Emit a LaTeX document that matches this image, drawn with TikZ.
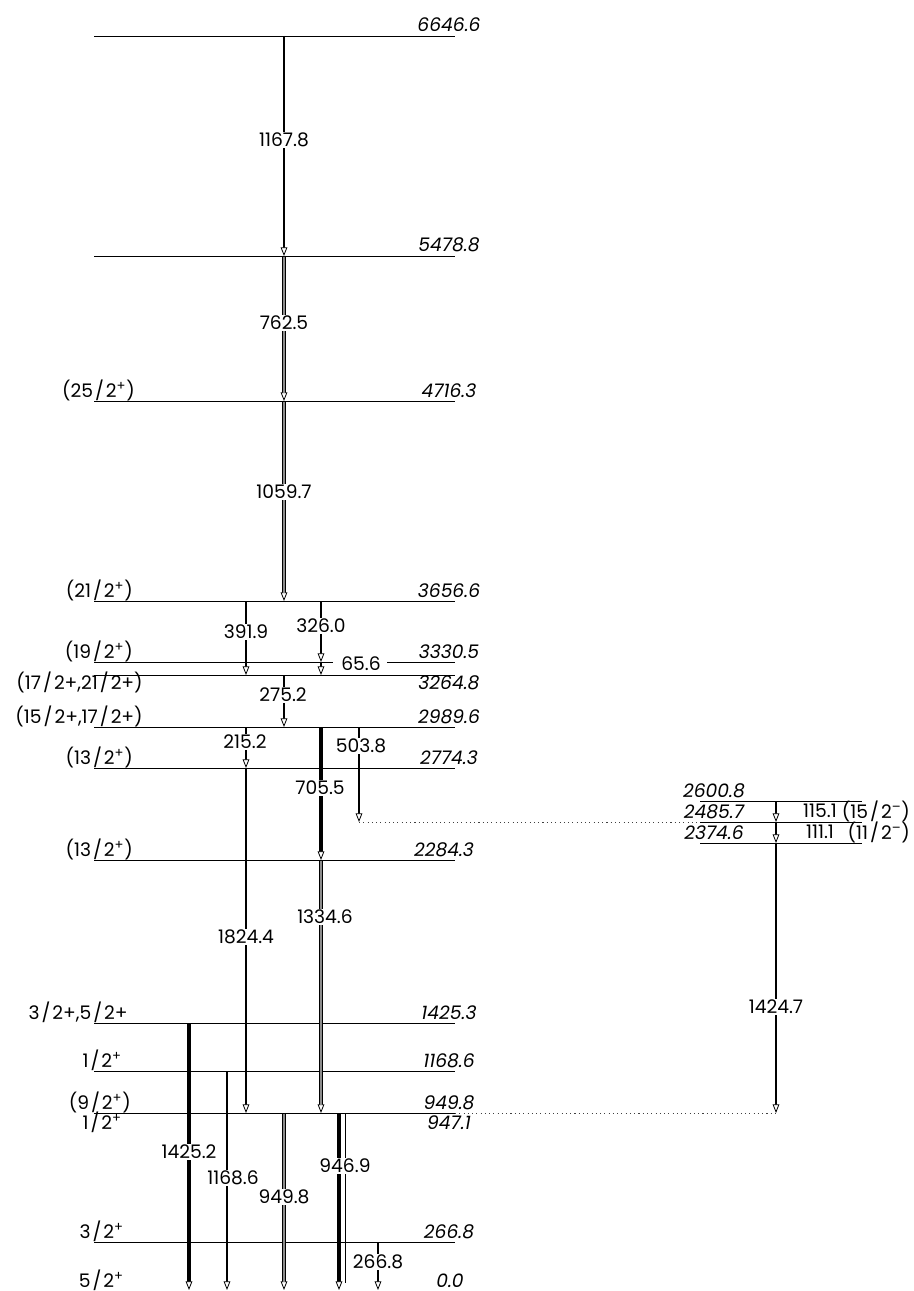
\documentclass[tikz,border=0pt]{standalone}
\usepackage{fontspec}
\setmainfont{Poppins}
\usetikzlibrary{arrows.meta}
\pgfdeclarelayer{fg}
\pgfsetlayers{main,fg}
\newcommand\gdbl[3]{%
  \draw[g=2.6pt] (#1,#2)--(#1,#3);
  \draw[line width=1.0pt, black!45] (#1,#2+0.6)--(#1,#3-8);}
\newcommand\sls{\kern1.5pt/\kern1.5pt}
\begin{document}
\begin{tikzpicture}[x=0.75pt,y=-0.75pt,
  lvl/.style={line width=0.7pt},
  dotl/.style={line width=0.75pt, dash pattern=on 0.8pt off 2.4pt, black!75},
  tip/.style={-{Triangle[fill=white,length=6.5pt,width=5pt,line width=0.6pt]}},
  g/.style={tip, line width=#1},
  lab/.style={fill=white, inner xsep=2pt, inner ysep=1pt, font=\fontsize{14}{16}\selectfont},
  plain/.style={inner sep=1pt, font=\fontsize{14}{16}\selectfont},
  en/.style={anchor=base, inner sep=0pt, font=\fontsize{14}{16}\selectfont\itshape},
  sp/.style={anchor=base east, inner sep=0pt, font=\fontsize{14}{16}\selectfont},
]
\useasboundingbox (0,0) rectangle (913,1291);

% ---------- levels (main band)
\foreach \y in {36,256,401,601,675,727,768,860,1023,1071,1113,1242}
  \draw[lvl] (94,\y) -- (455,\y);
\draw[lvl] (94,662) -- (333,662);
\draw[lvl] (387,662) -- (455,662);
% right band
\foreach \y in {801,822,843}
  \draw[lvl] (700,\y) -- (862,\y);
% dotted links
\draw[dotl] (359,822) -- (700,822);
\draw[dotl] (455,1113) -- (776,1113);

% ---------- transitions
\draw[g=1.4pt] (284,36) -- (284,256);
\gdbl{284}{256}{401}
\gdbl{284}{401}{601}
\draw[g=1.1pt] (246,601) -- (246,675);
\draw[g=2pt] (321,601) -- (321,662);
\draw[g=0.9pt] (321,662) -- (321,675);
\draw[g=2pt] (284,675) -- (284,727);
\draw[g=0.9pt] (246,727) -- (246,768);
\draw[g=2.6pt] (321,727) -- (321,860);
\draw[g=2.2pt] (359,727) -- (359,822);
\draw[g=1.1pt] (246,768) -- (246,1113);
\gdbl{321}{860}{1113}
\draw[g=0.9pt] (776,801) -- (776,822);
\draw[g=0.9pt] (776,822) -- (776,843);
\draw[g=2.2pt] (776,843) -- (776,1113);
\draw[g=2.8pt] (189,1023) -- (189,1290);
\draw[g=1.1pt] (227,1071) -- (227,1290);
\gdbl{284}{1113}{1290}
\draw[g=3.5pt] (339,1113) -- (339,1290);
\draw[line width=0.8pt] (345.5,1113) -- (345.5,1283);
\draw[g=1.1pt] (378,1242) -- (378,1290);

\begin{pgfonlayer}{fg}
% ---------- transition labels
\node[lab] at (284,140) {1167.8};
\node[lab] at (284,323) {762.5};
\node[lab] at (284,492) {1059.7};
\node[lab] at (246,632) {391.9};
\node[lab] at (321,626) {326.0};
\node[lab] at (361,664) {65.6};
\node[lab] at (283,695) {275.2};
\node[lab] at (245,742) {215.2};
\node[lab] at (361,746) {503.8};
\node[lab] at (320,788) {705.5};
\node[lab] at (246,937) {1824.4};
\node[lab] at (325,917) {1334.6};
\node[lab] at (776,1007) {1424.7};
\node[lab] at (189,1152) {1425.2};
\node[lab] at (233,1178) {1168.6};
\node[lab] at (284,1197) {949.8};
\node[lab] at (345,1166) {946.9};
\node[lab] at (378,1262) {266.8};
\node[plain] at (820,811) {115.1};
\node[plain] at (820,832) {111.1};
\end{pgfonlayer}

% ---------- energy labels
\node[en] at (449,32) {6646.6};
\node[en] at (449,252) {5478.8};
\node[en] at (449,397) {4716.3};
\node[en] at (449,597) {3656.6};
\node[en] at (449,658) {3330.5};
\node[en] at (449,689) {3264.8};
\node[en] at (449,723) {2989.6};
\node[en] at (449,764) {2774.3};
\node[en] at (444,856) {2284.3};
\node[en] at (449,1019) {1425.3};
\node[en] at (449,1067) {1168.6};
\node[en] at (449,1109) {949.8};
\node[en] at (449,1129) {947.1};
\node[en] at (449,1238) {266.8};
\node[en] at (450,1287) {0.0};
\node[en] at (714,797) {2600.8};
\node[en] at (714,818) {2485.7};
\node[en] at (714,839) {2374.6};

% ---------- spin labels
\node[sp] at (135,397) {(25\sls2\textsuperscript{+})};
\node[sp] at (133,597) {(21\sls2\textsuperscript{+})};
\node[sp] at (133,658) {(19\sls2\textsuperscript{+})};
\node[sp] at (143,689) {(17\sls2+,21\sls2+)};
\node[sp] at (143,723) {(15\sls2+,17\sls2+)};
\node[sp] at (133,764) {(13\sls2\textsuperscript{+})};
\node[sp] at (133,856) {(13\sls2\textsuperscript{+})};
\node[sp] at (128,1019) {3\sls2+,5\sls2+};
\node[sp] at (122,1067) {1\sls2\textsuperscript{+}};
\node[sp] at (131,1109) {(9\sls2\textsuperscript{+})};
\node[sp] at (122,1129) {1\sls2\textsuperscript{+}};
\node[sp] at (124,1238) {3\sls2\textsuperscript{+}};
\node[sp] at (124,1287) {5\sls2\textsuperscript{+}};
\node[sp] at (910,818) {(15\sls2\textsuperscript{–})};
\node[sp] at (910,839) {(11\sls2\textsuperscript{–})};
\end{tikzpicture}
\end{document}
